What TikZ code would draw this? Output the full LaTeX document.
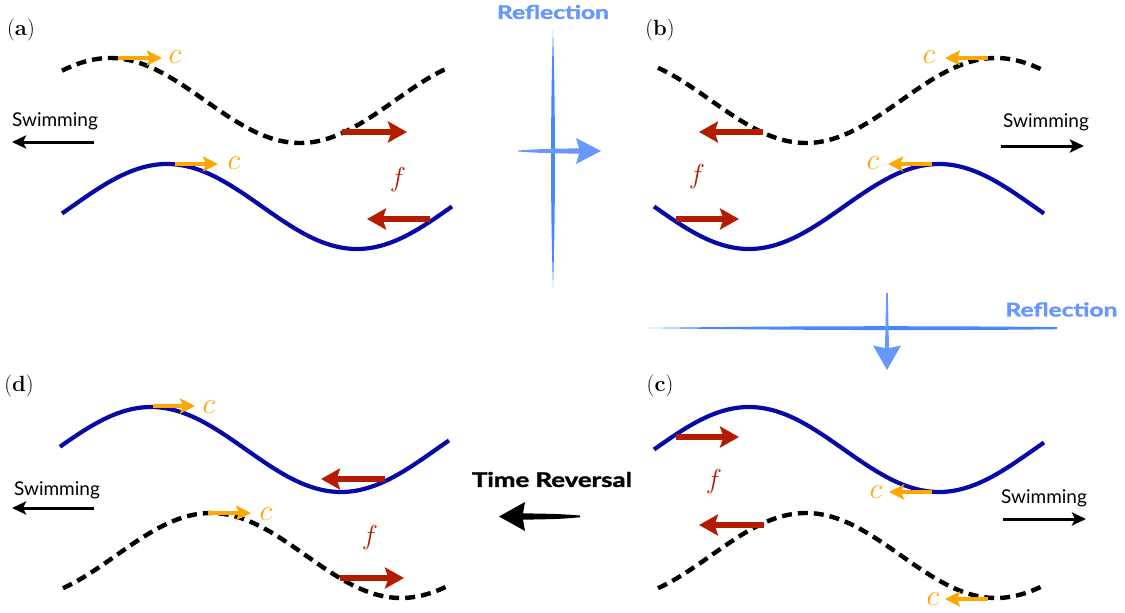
\documentclass[tikz,border=0pt]{standalone}
\usepackage{fontspec}
\usepackage{graphicx}
\newfontfamily\gill{Lato}
\newfontfamily\gillh{Lato}[BoldFeatures={FakeBold=1.6}]
\usetikzlibrary{arrows.meta}
\definecolor{wblue}{RGB}{8,8,168}
\definecolor{fred}{RGB}{180,28,0}
\definecolor{corange}{RGB}{255,166,0}
\definecolor{rblue}{RGB}{104,152,255}
\definecolor{rline}{RGB}{72,136,255}
\begin{document}
\begin{tikzpicture}[x=1pt,y=-1pt,
  wsolid/.style={draw=wblue,line width=4.2pt},
  wdash/.style={draw=black,line width=4.4pt,dash pattern=on 10pt off 6pt},
  carrow/.style={draw=corange,line width=4pt,-{Stealth[length=15pt,width=15pt,inset=3pt]}},
  farrow/.style={draw=fred,line width=5.2pt,-{Stealth[length=19pt,width=21pt,inset=3.5pt]}},
  swarrow/.style={draw=black,line width=3pt,-{Stealth[length=14pt,width=13pt,inset=3pt]}},
  clab/.style={text=corange,font=\fontsize{24.88}{25}\selectfont,inner sep=0pt},
  flab/.style={text=fred,font=\fontsize{24.88}{25}\selectfont,inner sep=0pt},
  plab/.style={font=\fontsize{22}{22}\selectfont,inner sep=0pt},
  swlab/.style={font=\gill\fontsize{19}{19}\selectfont,inner sep=0pt},
  rlab/.style={text=rblue,font=\gillh\bfseries,inner sep=0pt},
  tlab/.style={font=\gillh\bfseries,inner sep=0pt},
]
\useasboundingbox (0,0) rectangle (1125,613);

% ---------------- panel labels
\node[plab] (la) at (21,30) {(\textbf{a})};
\node[plab] (lb) at (660,30) {(\textbf{b})};
\node[plab] (lc) at (660,386) {(\textbf{c})};
\node[plab] (ld) at (19,386) {(\textbf{d})};

% ---------------- waves  (period 380 px; 360/380 = 0.9473684)
% (a)
\draw[wdash] plot[domain=62:448,samples=120] (\x,{100.5-42.5*cos(0.9473684*(\x-110))});
\draw[wsolid] plot[domain=62:452,samples=120] (\x,{206.5-42.5*cos(0.9473684*(\x-167))});
% (b)
\draw[wdash] plot[domain=658:1044,samples=120] (\x,{100.5-42.5*cos(0.9473684*(\x-996))});
\draw[wsolid] plot[domain=654:1044,samples=120] (\x,{206.5-42.5*cos(0.9473684*(\x-939))});
% (c)
\draw[wsolid] plot[domain=654:1044,samples=120] (\x,{449.5+42.5*cos(0.9473684*(\x-939))});
\draw[wdash] plot[domain=658:1044,samples=120] (\x,{555.5+42.5*cos(0.9473684*(\x-996))});
% (d)
\draw[wsolid] plot[domain=60:449,samples=120] (\x,{449.5+42.5*cos(0.9473684*(\x-341))});
\draw[wdash] plot[domain=63:449,samples=120] (\x,{555.5+42.5*cos(0.9473684*(\x-401))});

% ---------------- arrow end points
\path coordinate (ac1s) at (118,58)  coordinate (ac1e) at (162,58)
      coordinate (ac2s) at (175,164) coordinate (ac2e) at (218,164)
      coordinate (af1s) at (342,132) coordinate (af1e) at (407,132)
      coordinate (af2s) at (430,219) coordinate (af2e) at (367,219)
      coordinate (asws) at (94,142)  coordinate (aswe) at (12,142);
\path coordinate (bc1s) at (988,58)  coordinate (bc1e) at (945,58)
      coordinate (bc2s) at (932,164) coordinate (bc2e) at (888,164)
      coordinate (bf1s) at (763,132) coordinate (bf1e) at (699,132)
      coordinate (bf2s) at (676,219) coordinate (bf2e) at (739,219)
      coordinate (bsws) at (1001,146) coordinate (bswe) at (1084,146);
\path coordinate (cc1s) at (932,492) coordinate (cc1e) at (889,492)
      coordinate (cc2s) at (988,599) coordinate (cc2e) at (945,599)
      coordinate (cf1s) at (676,437) coordinate (cf1e) at (739,437)
      coordinate (cf2s) at (764,525) coordinate (cf2e) at (699,525)
      coordinate (csws) at (1003,519) coordinate (cswe) at (1086,519);
\path coordinate (dc1s) at (153,406) coordinate (dc1e) at (195,406)
      coordinate (dc2s) at (208,513) coordinate (dc2e) at (251,513)
      coordinate (df1s) at (385,479) coordinate (df1e) at (321,479)
      coordinate (df2s) at (340,578) coordinate (df2e) at (404,578)
      coordinate (dsws) at (94,508)  coordinate (dswe) at (12,508);

% ---------------- arrows
\foreach \p in {a,b,c,d}{
  \draw[carrow] (\p c1s) -- (\p c1e);
  \draw[carrow] (\p c2s) -- (\p c2e);
  \draw[farrow] (\p f1s) -- (\p f1e);
  \draw[farrow] (\p f2s) -- (\p f2e);
  \draw[swarrow] (\p sws) -- (\p swe);
}

% ---------------- labels
\node[clab] (ca1) at (175,57) {\scalebox{1.2}{$c$}};
\node[clab] (ca2) at (234,163) {\scalebox{1.2}{$c$}};
\node[flab] (fa) at (398,180) {\scalebox{1.1}{$f$}};
\node[swlab] (swa) at (55,121) {Swimming};

\node[clab] (cb1) at (929,57) {\scalebox{1.2}{$c$}};
\node[clab] (cb2) at (873,163) {\scalebox{1.2}{$c$}};
\node[flab] (fb) at (697,177) {\scalebox{1.1}{$f$}};
\node[swlab] (swb) at (1046,122) {Swimming};

\node[clab] (cc1) at (876,492) {\scalebox{1.2}{$c$}};
\node[clab] (cc2) at (933,599) {\scalebox{1.2}{$c$}};
\node[flab] (fc) at (714,482) {\scalebox{1.1}{$f$}};
\node[swlab] (swc) at (1044,498) {Swimming};

\node[clab] (cd1) at (209,407) {\scalebox{1.2}{$c$}};
\node[clab] (cd2) at (266,514) {\scalebox{1.2}{$c$}};
\node[flab] (fd) at (370,538) {\scalebox{1.1}{$f$}};
\node[swlab] (swd) at (57,490) {Swimming};

% ---------------- reflection 1 (vertical mirror)
\fill[rline] (553,30) .. controls (555.6,110) and (555.6,210) .. (553,288)
             .. controls (550.4,210) and (550.4,110) .. (553,30) -- cycle;
\fill[rblue] (518,150.5) .. controls (540,149) .. (579,148.3) -- (576,138) -- (601,151)
             -- (576,164) -- (579,153.7) .. controls (540,153) .. (518,151.5) -- cycle;
\node[rlab] (r1) at (553,12) {\resizebox{112pt}{14pt}{Reflection}};

% ---------------- reflection 2 (horizontal mirror)
\fill[rline] (647,328) .. controls (780,325.8) and (950,325.8) .. (1057,327.2) -- (1057,329.2)
             .. controls (950,330.8) and (780,330.2) .. (647,328) -- cycle;
\fill[rblue] (886.2,293) -- (885,348) -- (873,345.5) -- (887,370) -- (901,345.5)
             -- (889,348) -- (887.8,293) -- cycle;
\node[rlab] (r2) at (1061.5,309.5) {\resizebox{112pt}{14pt}{Reflection}};

% ---------------- time reversal
\fill[black] (580,515.5) .. controls (560,514) .. (523,513.3) -- (525,502) -- (499,516.5)
             -- (525,531) -- (523,519.7) .. controls (560,519) .. (580,517.3) -- cycle;
\node[tlab] (tr) at (552,479.5) {\resizebox{160pt}{15pt}{Time Reversal}};
\end{tikzpicture}
\end{document}
